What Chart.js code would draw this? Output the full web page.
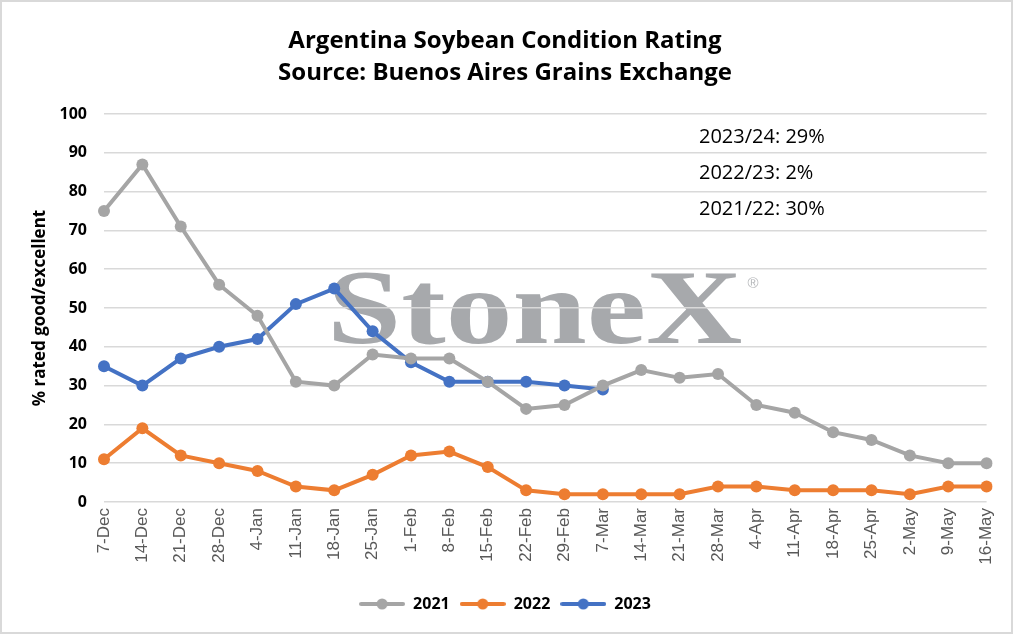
<!DOCTYPE html>
<html lang="en">

<head>
    <meta charset="UTF-8">
    <title>Argentina Soybean Condition Rating</title>
    <script src="https://cdn.jsdelivr.net/npm/chart.js"></script>
    <style>
        body { margin: 0; background: #fff; }
        #box { width: 1013px; height: 634px; position: relative; }
    </style>
</head>

<body>
    <div id="box">
        <canvas id="grafico"></canvas>
    </div>

    <script>
        // week labels (season Dec -> May)
        const semanas = ['7-Dec', '14-Dec', '21-Dec', '28-Dec', '4-Jan', '11-Jan', '18-Jan', '25-Jan', '1-Feb', '8-Feb',
            '15-Feb', '22-Feb', '29-Feb', '7-Mar', '14-Mar', '21-Mar', '28-Mar', '4-Apr', '11-Apr', '18-Apr',
            '25-Apr', '2-May', '9-May', '16-May'];

        const valores2021 = [75, 87, 71, 56, 48, 31, 30, 38, 37, 37, 31, 24, 25, 30, 34, 32, 33, 25, 23, 18, 16, 12, 10, 10];
        const valores2022 = [11, 19, 12, 10, 8, 4, 3, 7, 12, 13, 9, 3, 2, 2, 2, 2, 4, 4, 3, 3, 3, 2, 4, 4];
        const valores2023 = [35, 30, 37, 40, 42, 51, 55, 44, 36, 31, 31, 31, 30, 29];

        const yTicks = [0, 10, 20, 30, 40, 50, 60, 70, 80, 90, 100];

        const notas = ['2023/24: 29%', '2022/23: 2%', '2021/22: 30%'];

        const cores = { '2021': '#A5A5A5', '2022': '#ED7D31', '2023': '#4472C4' };

        // little "line with dot" swatch for the legend
        function swatch(cor) {
            const c = document.createElement('canvas');
            c.width = 46;
            c.height = 12;
            const g = c.getContext('2d');
            g.strokeStyle = cor;
            g.lineWidth = 4;
            g.lineCap = 'round';
            g.beginPath();
            g.moveTo(2, 6);
            g.lineTo(44, 6);
            g.stroke();
            g.fillStyle = cor;
            g.beginPath();
            g.arc(23, 6, 5.5, 0, Math.PI * 2);
            g.fill();
            return c;
        }

        const fundo = {
            id: 'fundo',
            beforeDraw(chart) {
                const ctx = chart.ctx;
                ctx.save();
                ctx.fillStyle = '#ffffff';
                ctx.fillRect(0, 0, chart.width, chart.height);
                // StoneX watermark
                ctx.fillStyle = '#A7A9AC';
                ctx.font = 'bold 106px "Liberation Serif"';
                ctx.textBaseline = 'alphabetic';
                ctx.translate(327, 343);
                ctx.scale(1.26, 1);
                ctx.fillText('StoneX', 0, 0);
                ctx.restore();
                ctx.save();
                ctx.fillStyle = '#B5B7BA';
                ctx.font = '15px "Liberation Sans"';
                ctx.textAlign = 'center';
                ctx.textBaseline = 'middle';
                ctx.fillText('®', 753, 284);
                ctx.restore();
            },
            afterDraw(chart) {
                const ctx = chart.ctx;
                ctx.save();
                ctx.fillStyle = '#000';
                ctx.font = '20px "Open Sans"';
                ctx.textBaseline = 'middle';
                notas.forEach((t, i) => ctx.fillText(t, 699, 137 + i * 36));
                ctx.strokeStyle = '#D9D9D9';
                ctx.lineWidth = 2;
                ctx.strokeRect(1, 1, chart.width - 2, chart.height - 2);
                ctx.restore();
            }
        };

        function serie(nome, dados) {
            return {
                label: nome,
                data: dados,
                borderColor: cores[nome],
                backgroundColor: cores[nome],
                borderWidth: 4,
                pointRadius: 6,
                pointHoverRadius: 6,
                pointBorderWidth: 0,
                pointStyle: 'circle',
                tension: 0
            };
        }

        const ctx = document.getElementById('grafico').getContext('2d');
        const chart = new Chart(ctx, {
            type: 'line',
            data: {
                labels: semanas,
                datasets: [
                    serie('2021', valores2021),
                    serie('2022', valores2022),
                    serie('2023', valores2023)
                ]
            },
            plugins: [fundo],
            options: {
                responsive: true,
                maintainAspectRatio: false,
                animation: false,
                layout: { padding: { left: 22, right: 25, top: 0, bottom: 12 } },
                plugins: {
                    title: {
                        display: true,
                        text: ['Argentina Soybean Condition Rating', 'Source: Buenos Aires Grains Exchange'],
                        color: '#000',
                        font: { family: '"Open Sans"', size: 24, weight: 'bold', lineHeight: 32 / 24 },
                        padding: { top: 25, bottom: 25 }
                    },
                    legend: {
                        position: 'bottom',
                        labels: {
                            usePointStyle: true,
                            pointStyleWidth: 46,
                            padding: 10,
                            color: '#000',
                            font: { family: '"Open Sans"', size: 16, weight: 'bold' },
                            generateLabels(ch) {
                                return ch.data.datasets.map((d, i) => ({
                                    text: d.label,
                                    pointStyle: swatch(d.borderColor),
                                    fillStyle: d.borderColor,
                                    strokeStyle: d.borderColor,
                                    lineWidth: 0,
                                    datasetIndex: i,
                                    fontColor: '#000'
                                }));
                            }
                        }
                    },
                    tooltip: { enabled: false }
                },
                scales: {
                    x: {
                        offset: false,
                        grid: { display: false, drawTicks: false },
                        border: { display: false },
                        ticks: {
                            autoSkip: false,
                            minRotation: 90,
                            maxRotation: 90,
                            padding: 6,
                            color: '#595959',
                            font: { family: '"Liberation Sans"', size: 17 }
                        },
                        afterFit(scale) { scale.height = 84; }
                    },
                    y: {
                        min: 0,
                        max: 100,
                        afterBuildTicks(scale) { scale.ticks = yTicks.map(v => ({ value: v })); },
                        grid: { color: '#D9D9D9', lineWidth: 1.5, drawTicks: false },
                        border: { display: false },
                        ticks: {
                            padding: 17,
                            color: '#000',
                            font: { family: '"Open Sans"', size: 16, weight: 'bold' }
                        },
                        title: {
                            display: true,
                            text: '% rated good/excellent',
                            color: '#000',
                            font: { family: '"Open Sans"', size: 17, weight: 'bold' },
                            padding: { top: 8, bottom: 0 }
                        },
                        afterFit(scale) { scale.width = 82; }
                    }
                }
            }
        });
    </script>
</body>

</html>
